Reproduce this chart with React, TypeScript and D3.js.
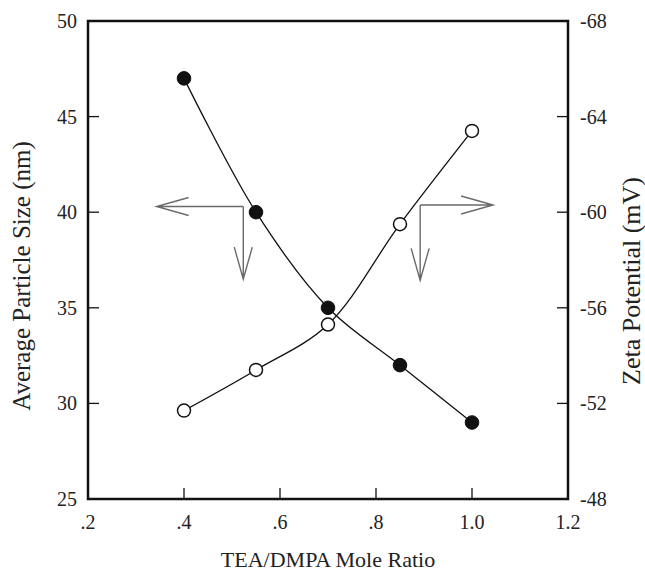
import React from "react";
import * as d3 from "d3";

const ratio = [0.4, 0.55, 0.7, 0.85, 1.0];
const particleSize = [47.0, 40.0, 35.0, 32.0, 29.0];
const zetaPotential = [-51.7, -53.4, -55.3, -59.5, -63.4];

const xTicks = [0.2, 0.4, 0.6, 0.8, 1.0, 1.2];
const xTickLabels = [".2", ".4", ".6", ".8", "1.0", "1.2"];
const yLeftTicks = [25, 30, 35, 40, 45, 50];
const yRightTicks = [-48, -52, -56, -60, -64, -68];

// annotation arrows (data units): corner, horizontal tip x, vertical tip
const leftArrow = { x: 0.5235, y: 40.3, tipX: 0.343, tipY: 36.5 };
const rightArrow = { x: 0.892, y: -60.3, tipX: 1.044, tipY: -57.15 };

const W = 645;
const H = 574;
const M = { left: 88, right: 568, top: 21, bottom: 499 };
const FONT = "'Liberation Serif', 'Times New Roman', serif";

export default function App() {
  const x = d3.scaleLinear().domain([0.2, 1.2]).range([M.left, M.right]);
  const yL = d3.scaleLinear().domain([25, 50]).range([M.bottom, M.top]);
  const yR = d3.scaleLinear().domain([-48, -68]).range([M.bottom, M.top]);

  const sizePts = ratio.map((r, i) => [x(r), yL(particleSize[i])] as [number, number]);
  const zetaPts = ratio.map((r, i) => [x(r), yR(zetaPotential[i])] as [number, number]);
  const line = d3.line().curve(d3.curveCatmullRom.alpha(0.5));

  const tickLen = 11;
  const head = 32;
  const hw = 9;
  const arrowColor = "#6a6a6a";

  const la = {
    cx: x(leftArrow.x), cy: yL(leftArrow.y),
    tx: x(leftArrow.tipX), ty: yL(leftArrow.tipY),
  };
  const ra = {
    cx: x(rightArrow.x), cy: yR(rightArrow.y),
    tx: x(rightArrow.tipX), ty: yR(rightArrow.tipY),
  };

  return (
    <svg width={W} height={H} style={{ position: "absolute", left: 0, top: 0, background: "#fff" }} fontFamily={FONT}>
      <rect x={0} y={0} width={W} height={H} fill="#fff" />
      {/* lines */}
      <path d={line(sizePts) || ""} fill="none" stroke="#111" strokeWidth={1.3} />
      <path d={line(zetaPts) || ""} fill="none" stroke="#111" strokeWidth={1.3} />
      {/* arrows */}
      <g stroke={arrowColor} strokeWidth={1.4} fill="none">
        <path d={`M${la.cx},${la.cy}H${la.tx}M${la.tx + head},${la.cy - hw}L${la.tx},${la.cy}L${la.tx + head},${la.cy + hw}`} />
        <path d={`M${la.cx},${la.cy}V${la.ty}M${la.cx - hw},${la.ty - head}L${la.cx},${la.ty}L${la.cx + hw},${la.ty - head}`} />
        <path d={`M${ra.cx},${ra.cy}H${ra.tx}M${ra.tx - head},${ra.cy - hw}L${ra.tx},${ra.cy}L${ra.tx - head},${ra.cy + hw}`} />
        <path d={`M${ra.cx},${ra.cy}V${ra.ty}M${ra.cx - hw},${ra.ty - head}L${ra.cx},${ra.ty}L${ra.cx + hw},${ra.ty - head}`} />
      </g>
      {/* points */}
      {zetaPts.map((p, i) => (
        <circle key={"z" + i} cx={p[0]} cy={p[1]} r={6.5} fill="#fff" stroke="#111" strokeWidth={1.5} />
      ))}
      {sizePts.map((p, i) => (
        <circle key={"s" + i} cx={p[0]} cy={p[1]} r={6.8} fill="#111" stroke="#111" strokeWidth={1} />
      ))}
      {/* frame */}
      <rect x={M.left} y={M.top} width={M.right - M.left} height={M.bottom - M.top} fill="none" stroke="#111" strokeWidth={2.5} />
      {/* ticks */}
      <g stroke="#111" strokeWidth={1.3}>
        {xTicks.slice(1, -1).map((t) => (
          <line key={"xt" + t} x1={x(t)} x2={x(t)} y1={M.bottom} y2={M.bottom - tickLen} />
        ))}
        {yLeftTicks.slice(1, -1).map((t) => (
          <line key={"yl" + t} x1={M.left} x2={M.left + tickLen} y1={yL(t)} y2={yL(t)} />
        ))}
        {yRightTicks.slice(1, -1).map((t) => (
          <line key={"yr" + t} x1={M.right} x2={M.right - tickLen} y1={yR(t)} y2={yR(t)} />
        ))}
      </g>
      {/* tick labels */}
      <g fontSize={20} fill="#222">
        {xTicks.map((t, i) => (
          <text key={"xl" + t} x={x(t)} y={529} textAnchor="middle">{xTickLabels[i]}</text>
        ))}
        {yLeftTicks.map((t) => (
          <text key={"yll" + t} x={M.left - 11} y={yL(t) + 7} textAnchor="end">{t}</text>
        ))}
        {yRightTicks.map((t) => (
          <text key={"yrl" + t} x={M.right + 12} y={yR(t) + 7} textAnchor="start">{t}</text>
        ))}
      </g>
      {/* axis titles */}
      <g fill="#222">
        <text x={(M.left + M.right) / 2} y={567} fontSize={22} textAnchor="middle">TEA/DMPA Mole Ratio</text>
        <text transform={`translate(30,276) rotate(-90)`} fontSize={25} textAnchor="middle">Average Particle Size (nm)</text>
        <text transform={`translate(640,281) rotate(-90)`} fontSize={26} textAnchor="middle">Zeta Potential (mV)</text>
      </g>
    </svg>
  );
}
